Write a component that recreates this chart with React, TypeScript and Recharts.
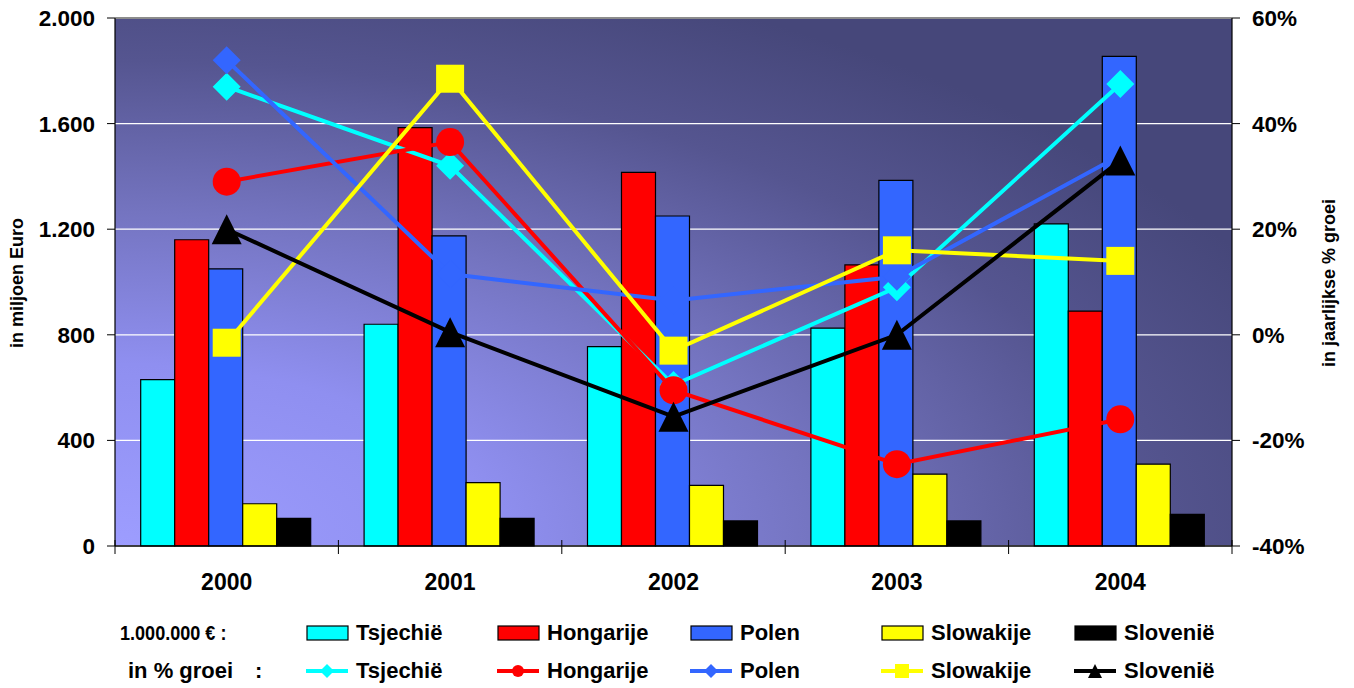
import { ComposedChart, Bar, Line, XAxis, YAxis, CartesianGrid, ReferenceLine } from 'recharts';

const years = ['2000', '2001', '2002', '2003', '2004'];

// in miljoen Euro (bars, left axis)
const euroTsjechie = [630, 840, 755, 825, 1220];
const euroHongarije = [1160, 1585, 1415, 1065, 890];
const euroPolen = [1050, 1175, 1250, 1385, 1855];
const euroSlowakije = [160, 240, 230, 272, 310];
const euroSlovenie = [105, 105, 95, 95, 120];

// jaarlijkse % groei (lines, right axis)
const groeiTsjechie = [47, 32, -9.5, 9, 47.5];
const groeiHongarije = [29, 36.5, -10.5, -24.5, -16];
const groeiPolen = [52, 11.5, 6.5, 11, 34];
const groeiSlowakije = [-1.5, 48.5, -3, 16, 14];
const groeiSlovenie = [20, 0.5, -15.5, 0, 33];

const leftTicks = [0, 400, 800, 1200, 1600, 2000];
const rightTicks = [-40, -20, 0, 20, 40, 60];

const countries = ['Tsjechië', 'Hongarije', 'Polen', 'Slowakije', 'Slovenië'];

const rows = years.map((year, i) => ({
    year,
    eTs: euroTsjechie[i], eHo: euroHongarije[i], ePo: euroPolen[i], eSk: euroSlowakije[i], eSl: euroSlovenie[i],
    gTs: groeiTsjechie[i], gHo: groeiHongarije[i], gPo: groeiPolen[i], gSk: groeiSlowakije[i], gSl: groeiSlovenie[i],
}));

const FONT = '"Liberation Sans", Arial, sans-serif';
const colors = ['#00ffff', '#ff0000', '#3366ff', '#ffff00', '#000000'];
const shapes = ['diamond', 'circle', 'diamond', 'square', 'triangle'];
const barKeys = ['eTs', 'eHo', 'ePo', 'eSk', 'eSl'];
const lineKeys = ['gTs', 'gHo', 'gPo', 'gSk', 'gSl'];

// half a category band, for the tick marks between the years
const HALF_BAND = (1232 - 115) / 10;

const marker = (shape: string, color: string, cx: number, cy: number, s: number, key?: any) => {
    if (shape === 'circle') return <circle key={key} cx={cx} cy={cy} r={s} fill={color} />;
    if (shape === 'square') return <rect key={key} x={cx - s} y={cy - s} width={s * 2} height={s * 2} fill={color} />;
    if (shape === 'triangle')
        return <polygon key={key} points={`${cx},${cy - s} ${cx + s},${cy + s} ${cx - s},${cy + s}`} fill={color} />;
    return <polygon key={key} points={`${cx},${cy - s} ${cx + s},${cy} ${cx},${cy + s} ${cx - s},${cy}`} fill={color} />;
};

const dotFor = (shape: string, color: string) => (props: any) => {
    const { cx, cy, index } = props;
    const size = shape === 'triangle' ? 15 : 14;
    return marker(shape, color, cx, cy, size, `dot-${shape}-${color}-${index}`);
};

const YearTick = (props: any) => {
    const { x, y, payload, index } = props;
    return (
        <g>
            <line x1={x - HALF_BAND} x2={x - HALF_BAND} y1={y - 6} y2={y + 8} stroke="#000" />
            {index === years.length - 1 && (
                <line x1={x + HALF_BAND} x2={x + HALF_BAND} y1={y - 6} y2={y + 8} stroke="#000" />
            )}
            <text x={x} y={y + 44} textAnchor="middle" fill="#000" fontSize={23} fontWeight="bold" fontFamily={FONT}>
                {payload.value}
            </text>
        </g>
    );
};

const fmtEuro = (v: number) => v.toLocaleString('de-DE');

const BarSwatch = ({ color }: { color: string }) => (
    <svg width={44} height={18} style={{ position: 'absolute', left: 0, top: -9 }}>
        <rect x={1} y={2} width={41} height={14} fill={color} stroke="#000" strokeWidth={1.2} />
    </svg>
);

const LineSwatch = ({ color, shape }: { color: string; shape: string }) => (
    <svg width={44} height={18} style={{ position: 'absolute', left: 0, top: -9 }}>
        <line x1={0} x2={42} y1={9} y2={9} stroke={color} strokeWidth={4} />
        {marker(shape, color, 21, 9, shape === 'circle' ? 6 : 7)}
    </svg>
);

const legendX = [306, 497, 690, 881, 1074];

const labelStyle: any = { position: 'absolute', fontFamily: FONT, fontWeight: 'bold', fontSize: 22, whiteSpace: 'nowrap', lineHeight: 1, color: '#000' };

const App = () => {
    return (
        <div style={{ position: 'absolute', left: 0, top: 0, width: 1354, height: 688, background: '#fff', overflow: 'hidden' }}>
            <svg width={0} height={0} style={{ position: 'absolute' }}>
                <defs>
                    <radialGradient id="plotBg" cx="0" cy="1" r="1.15" fx="0" fy="1">
                        <stop offset="0" stopColor="#9d9dff" />
                        <stop offset="0.3" stopColor="#8f8ff0" />
                        <stop offset="0.55" stopColor="#7474c0" />
                        <stop offset="0.8" stopColor="#555590" />
                        <stop offset="1" stopColor="#46477a" />
                    </radialGradient>
                </defs>
            </svg>
            <ComposedChart
                width={1354}
                height={688}
                data={rows}
                margin={{ top: 18, right: 0, bottom: 0, left: 0 }}
                barGap={0}
                barCategoryGap="11.5%"
            >
                <CartesianGrid yAxisId="left" vertical={false} stroke="#ffffff" strokeWidth={1.3} fill="url(#plotBg)" fillOpacity={1} />
                <ReferenceLine yAxisId="left" y={2000} stroke="#8c8c8c" strokeWidth={2} />
                <XAxis
                    dataKey="year"
                    height={142}
                    interval={0}
                    tickSize={0}
                    tickMargin={0}
                    tickLine={false}
                    axisLine={{ stroke: '#000', strokeWidth: 1.5 }}
                    tick={<YearTick />}
                />
                <YAxis
                    yAxisId="left"
                    width={115}
                    domain={[0, 2000]}
                    ticks={leftTicks}
                    interval={0}
                    tickFormatter={fmtEuro}
                    tickSize={8}
                    tickMargin={12}
                    axisLine={{ stroke: '#000', strokeWidth: 1.2 }}
                    tickLine={{ stroke: '#000' }}
                    tick={{ fill: '#000', fontSize: 22.5, fontWeight: 'bold', fontFamily: FONT }}
                />
                <YAxis
                    yAxisId="right"
                    orientation="right"
                    width={122}
                    domain={[-40, 60]}
                    ticks={rightTicks}
                    interval={0}
                    tickFormatter={(v: number) => `${v}%`}
                    tickSize={8}
                    tickMargin={12}
                    axisLine={{ stroke: '#000', strokeWidth: 1.2 }}
                    tickLine={{ stroke: '#000' }}
                    tick={{ fill: '#000', fontSize: 22.5, fontWeight: 'bold', fontFamily: FONT }}
                />
                {barKeys.map((k, i) => (
                    <Bar
                        key={k}
                        yAxisId="left"
                        dataKey={k}
                        name={countries[i]}
                        fill={colors[i]}
                        stroke="#000"
                        strokeWidth={1.2}
                        isAnimationActive={false}
                    />
                ))}
                {lineKeys.map((k, i) => (
                    <Line
                        key={k}
                        yAxisId="right"
                        type="linear"
                        dataKey={k}
                        name={countries[i]}
                        stroke={colors[i]}
                        strokeWidth={4}
                        dot={dotFor(shapes[i], colors[i])}
                        activeDot={false}
                        isAnimationActive={false}
                    />
                ))}
            </ComposedChart>

            <div style={{ ...labelStyle, fontSize: 18, left: 17, top: 283, transform: 'translate(-50%, -50%) rotate(-90deg)' }}>
                in miljoen Euro
            </div>
            <div style={{ ...labelStyle, fontSize: 18, left: 1329, top: 283, transform: 'translate(-50%, -50%) rotate(-90deg)' }}>
                in jaarlijkse % groei
            </div>

            <div style={{ ...labelStyle, fontSize: 21, left: 120, top: 622, transform: 'scaleX(0.86)', transformOrigin: 'left center' }}>
                1.000.000 € :
            </div>
            <div style={{ ...labelStyle, fontSize: 22, left: 128, top: 660 }}>in % groei</div>
            <div style={{ ...labelStyle, fontSize: 22, left: 255, top: 660 }}>:</div>

            {countries.map((c, i) => (
                <div key={`bar-${c}`} style={{ position: 'absolute', left: legendX[i], top: 633 }}>
                    <BarSwatch color={colors[i]} />
                    <div style={{ ...labelStyle, left: 50, top: -11 }}>{c}</div>
                </div>
            ))}
            {countries.map((c, i) => (
                <div key={`line-${c}`} style={{ position: 'absolute', left: legendX[i], top: 671 }}>
                    <LineSwatch color={colors[i]} shape={shapes[i]} />
                    <div style={{ ...labelStyle, left: 50, top: -11 }}>{c}</div>
                </div>
            ))}
        </div>
    );
};

export default App;
